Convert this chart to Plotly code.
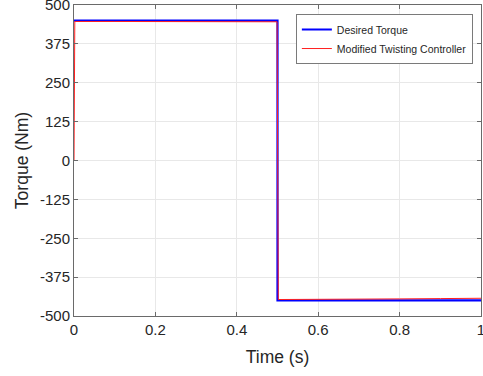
import plotly.graph_objects as go

t_desired = [0, 0.5, 0.5, 1.0]
desired = [450, 450, -450, -450]

t_ctrl = [0, 0.002, 0.1, 0.2, 0.3, 0.4, 0.499, 0.502, 0.56, 0.7, 0.8, 0.9, 1.0]
ctrl = [0, 447, 447, 447, 446, 446, 446, -447, -447, -446, -445, -444, -443]

y_ticks = [-500, -375, -250, -125, 0, 125, 250, 375, 500]
y_labels = ["-500", "-375", "-250", "-125", "0", "125", "250", "375", "500"]
x_ticks = [0, 0.2, 0.4, 0.6, 0.8, 1]
x_labels = ["0", "0.2", "0.4", "0.6", "0.8", "1"]

fig = go.Figure()
fig.add_trace(go.Scatter(x=t_desired, y=desired, mode="lines", name="Desired Torque",
                         line=dict(color="#0000ff", width=2.2)))
fig.add_trace(go.Scatter(x=t_ctrl, y=ctrl, mode="lines", name="Modified Twisting Controller",
                         line=dict(color="#ff2020", width=1)))

axis_common = dict(showline=True, mirror="ticks", linecolor="#6a6a6a", linewidth=1,
                   ticks="inside", ticklen=4, tickcolor="#6a6a6a",
                   showgrid=True, gridcolor="#e8e8e8", gridwidth=1, zeroline=False,
                   automargin=False, ticklabeloverflow="allow",
                   tickfont=dict(family="Liberation Sans, Arial", size=15, color="#262626"),
                   title_font=dict(family="Liberation Sans, Arial", size=17.5, color="#262626"))

fig.update_xaxes(range=[0, 1], tickvals=x_ticks, ticktext=x_labels,
                 title_text="Time (s)", title_standoff=13, **axis_common)
fig.update_yaxes(range=[-500, 500], tickvals=y_ticks, ticktext=y_labels,
                 title_text="Torque (Nm)", title_standoff=6, **axis_common)

fig.update_layout(
    width=483, height=376,
    margin=dict(l=74, r=2, t=5, b=60),
    plot_bgcolor="white", paper_bgcolor="white",
    showlegend=True,
    legend=dict(x=0.98, y=0.971, xanchor="right", yanchor="top",
                bgcolor="white", bordercolor="#7a7a7a", borderwidth=1,
                font=dict(family="Liberation Sans, Arial", size=10.5, color="#262626"),
                tracegroupgap=0, itemwidth=30),
)

fig.write_html("out.html", config={"displayModeBar": False},
               post_script="document.body.style.margin='0';document.body.style.padding='0';")
